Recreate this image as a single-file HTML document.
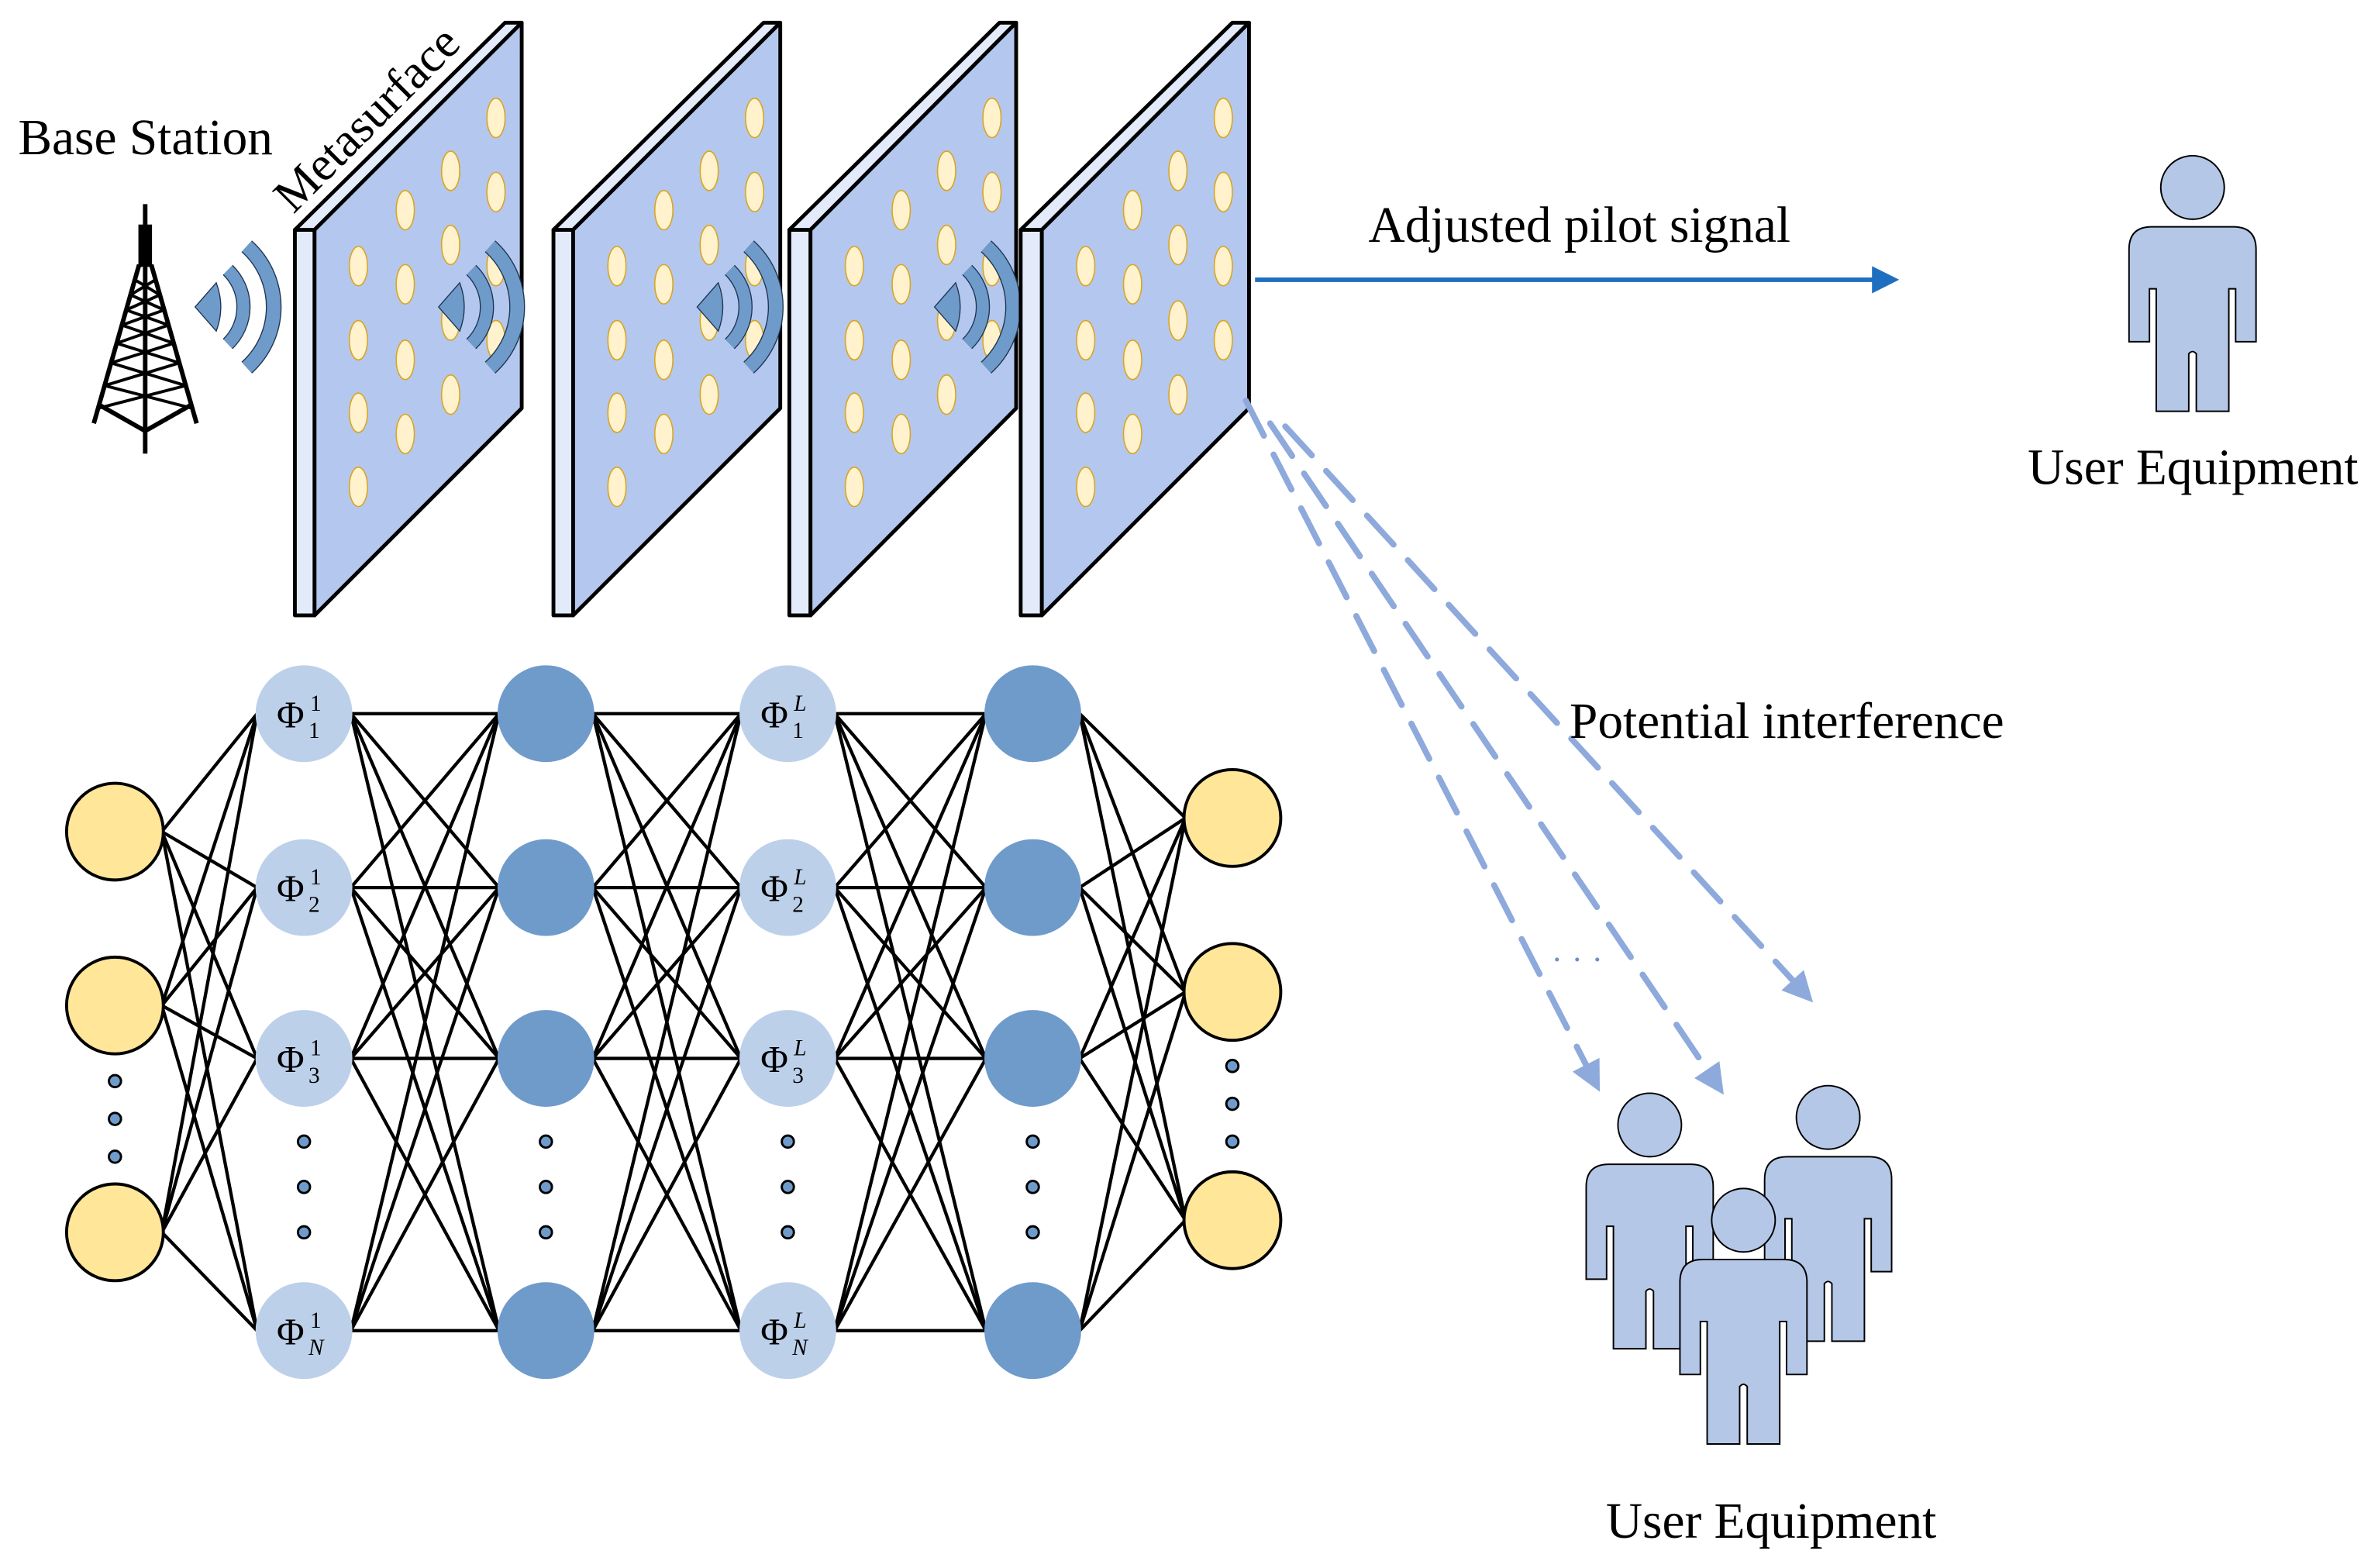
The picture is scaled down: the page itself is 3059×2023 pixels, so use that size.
<!DOCTYPE html>
<html><head><meta charset="utf-8">
<style>
html,body{margin:0;padding:0;background:#fff;width:3059px;height:2023px;overflow:hidden}
svg{display:block}
text{font-family:"Liberation Serif",serif;fill:#000}
</style></head>
<body>
<svg id="s" width="3059" height="2023" viewBox="0 0 1568 1037" xmlns="http://www.w3.org/2000/svg">
<defs>
<marker id="ah" markerWidth="6" markerHeight="6" refX="4" refY="3" orient="auto" markerUnits="strokeWidth"><path d="M0,0 L6,3 L0,6 Z" fill="#1F6FC0"/></marker>
</defs>
<g id="g"></g>
<text x="12" y="102" font-size="33.5">Base Station</text>
<text x="0" y="0" font-size="32" transform="translate(194,142) rotate(-45)">Metasurface</text>
<text x="905" y="160" font-size="33.5">Adjusted pilot signal</text>
<text x="1341" y="320" font-size="33.5">User Equipment</text>
<text x="1038" y="488" font-size="33.5">Potential interference</text>
<text x="1062" y="1017" font-size="33.5">User Equipment</text>
<text x="1026" y="642" font-size="22" letter-spacing="6" style="fill:#6F8FCB">···</text>
</svg>
<script>
var h='';
(function(){
 var cx=96;
 h+='<g stroke="#000" stroke-width="3" fill="none">';
 h+='<line x1="96" y1="135" x2="96" y2="300"/>';
 h+='<rect x="93" y="150" width="6" height="25" fill="#000"/>';
 h+='<line x1="92" y1="175" x2="62" y2="280"/><line x1="100" y1="175" x2="130" y2="280"/>';
 var ys=[185,195,205,215,227,240,255];
 for(var i=0;i<ys.length;i++){var y=ys[i];var w=4+(y-175)*0.285;var y2=ys[i+1]||270;var w2=4+(y2-175)*0.285;
  h+='<line x1="'+(cx-w)+'" y1="'+y+'" x2="'+(cx+w2)+'" y2="'+y2+'" stroke-width="2"/>';
  h+='<line x1="'+(cx+w)+'" y1="'+y+'" x2="'+(cx-w2)+'" y2="'+y2+'" stroke-width="2"/>';}
 h+='<path d="M66,268 L96,285 L126,268"/></g>';
})();
function wave(cx,cy){
 var s='';
 function arc(r,a,sw){var t=a*Math.PI/180;var x1=cx+r*Math.cos(t),y1=cy-r*Math.sin(t),y2=cy+r*Math.sin(t);
  return '<path d="M'+x1+','+y1+' A'+r+','+r+' 0 0 1 '+x1+','+y2+'" fill="none" stroke="#1f3550" stroke-width="'+(sw+1.4)+'"/><path d="M'+x1+','+y1+' A'+r+','+r+' 0 0 1 '+x1+','+y2+'" fill="none" stroke="#6F9BCB" stroke-width="'+sw+'"/>';}
 s+='<path d="M'+(cx+2)+','+cy+' L'+(cx+16)+','+(cy-16)+' Q'+(cx+22)+','+cy+' '+(cx+16)+','+(cy+16)+' Z" fill="#6F9BCB" stroke="#1f3550" stroke-width="0.7"/>';
 s+=arc(34,46,8)+arc(54,48,9);
 return s;
}
var P=[[195,208,345],[366,379,516],[522,536,672],[675,689,826]];
var cols=[[29,[176,225,273,322]],[60,[139,188,238,287]],[90,[113,162,212,261]],[120,[78,127,176,225]]];
P.forEach(function(p,k){
 var a=p[0],b=p[1],c=p[2];
 h+='<polygon points="'+a+',152 '+b+',152 '+b+',407 '+a+',407" fill="#E3EBFA" stroke="#000" stroke-width="2.5" stroke-linejoin="round"/>';
 h+='<polygon points="'+a+',152 '+b+',152 '+c+',15 '+(c-11)+',15" fill="#E3EBFA" stroke="#000" stroke-width="2.5" stroke-linejoin="round"/>';
 h+='<polygon points="'+b+',152 '+c+',15 '+c+',270 '+b+',407" fill="#B4C7EE" stroke="#000" stroke-width="2.5" stroke-linejoin="round"/>';
 cols.forEach(function(cl){cl[1].forEach(function(y){
  h+='<ellipse cx="'+(b+cl[0])+'" cy="'+y+'" rx="6" ry="13" fill="#FFF2CC" stroke="#D9A520" stroke-width="0.8"/>';});});
 if(k<3) h+=wave(b+80,203);
});
h+=wave(127,203);
h+='<line x1="830" y1="185" x2="1250" y2="185" stroke="#1F6FC0" stroke-width="3" marker-end="url(#ah)"/>';
function dash(x1,y1,x2,y2){var dx=x2-x1,dy=y2-y1,L=Math.hypot(dx,dy),ux=dx/L,uy=dy/L;var bx=x2-ux*20,by=y2-uy*20;
 h+='<line x1="'+x1+'" y1="'+y1+'" x2="'+bx+'" y2="'+by+'" stroke="#8EA9DB" stroke-width="4" stroke-dasharray="26,14" stroke-linecap="round"/>';
 h+='<polygon points="'+x2+','+y2+' '+(bx-uy*10)+','+(by+ux*10)+' '+(bx+uy*10)+','+(by-ux*10)+'" fill="#8EA9DB"/>';}
dash(824,265,1058,722);dash(840,280,1140,724);dash(850,282,1199,663);
var lay=[[76,[550,665,815],'#FFE699','#000'],[201,[472,587,700,880],'#BDD0EA',null],[361,[472,587,700,880],'#6F9BCB',null],[521,[472,587,700,880],'#BDD0EA',null],[683,[472,587,700,880],'#6F9BCB',null],[815,[541,656,807],'#FFE699','#000']];
for(var i=0;i<lay.length-1;i++){var A=lay[i],B=lay[i+1];
 A[1].forEach(function(y1){B[1].forEach(function(y2){
  h+='<line x1="'+(A[0]+31)+'" y1="'+y1+'" x2="'+(B[0]-31)+'" y2="'+y2+'" stroke="#000" stroke-width="2.2"/>';});});}
lay.forEach(function(L,i){L[1].forEach(function(y){
 h+='<circle cx="'+L[0]+'" cy="'+y+'" r="32" fill="'+L[2]+'"'+(L[3]?' stroke="#000" stroke-width="2"':'')+'/>';});});
function dots(x,ys){ys.forEach(function(y){h+='<circle cx="'+x+'" cy="'+y+'" r="4" fill="#6F9BCB" stroke="#000" stroke-width="1.5"/>';});}
dots(76,[715,740,765]);dots(815,[705,730,755]);
[201,361,521,683].forEach(function(x){dots(x,[755,785,815]);});
var subs=['1','2','3','N'];
[[201,'1'],[521,'L']].forEach(function(q){[472,587,700,880].forEach(function(y,j){
 h+='<text x="'+(q[0]-18)+'" y="'+(y+9)+'" font-size="25">Φ</text>';
 h+='<text x="'+(q[0]+4)+'" y="'+(y-2)+'" font-size="15" font-style="'+(q[1]=='L'?'italic':'normal')+'">'+q[1]+'</text>';
 h+='<text x="'+(q[0]+3)+'" y="'+(y+16)+'" font-size="15" font-style="'+(j==3?'italic':'normal')+'">'+subs[j]+'</text>';});});
function person(L,T){var r=21;var cx=L+42;
 h+='<circle cx="'+cx+'" cy="'+(T-26)+'" r="'+r+'" fill="#B4C7E7" stroke="#000" stroke-width="1"/>';
 h+='<path d="M'+L+','+(T+15)+' Q'+L+','+T+' '+(L+15)+','+T+' H'+(L+69)+' Q'+(L+84)+','+T+' '+(L+84)+','+(T+15)+' V'+(T+76)+' H'+(L+70.5)+' V'+(T+41)+' H'+(L+66)+' V'+(T+122)+' H'+(L+44.5)+' V'+(T+84)+' Q'+(L+42)+','+(T+81)+' '+(L+39.5)+','+(T+84)+' V'+(T+122)+' H'+(L+18)+' V'+(T+41)+' H'+(L+13.5)+' V'+(T+76)+' H'+L+' Z" fill="#B4C7E7" stroke="#000" stroke-width="1"/>';}
person(1408,150);person(1049,770);person(1167,765);person(1111,833);
document.getElementById('g').innerHTML=h;
</script>
</body></html>
